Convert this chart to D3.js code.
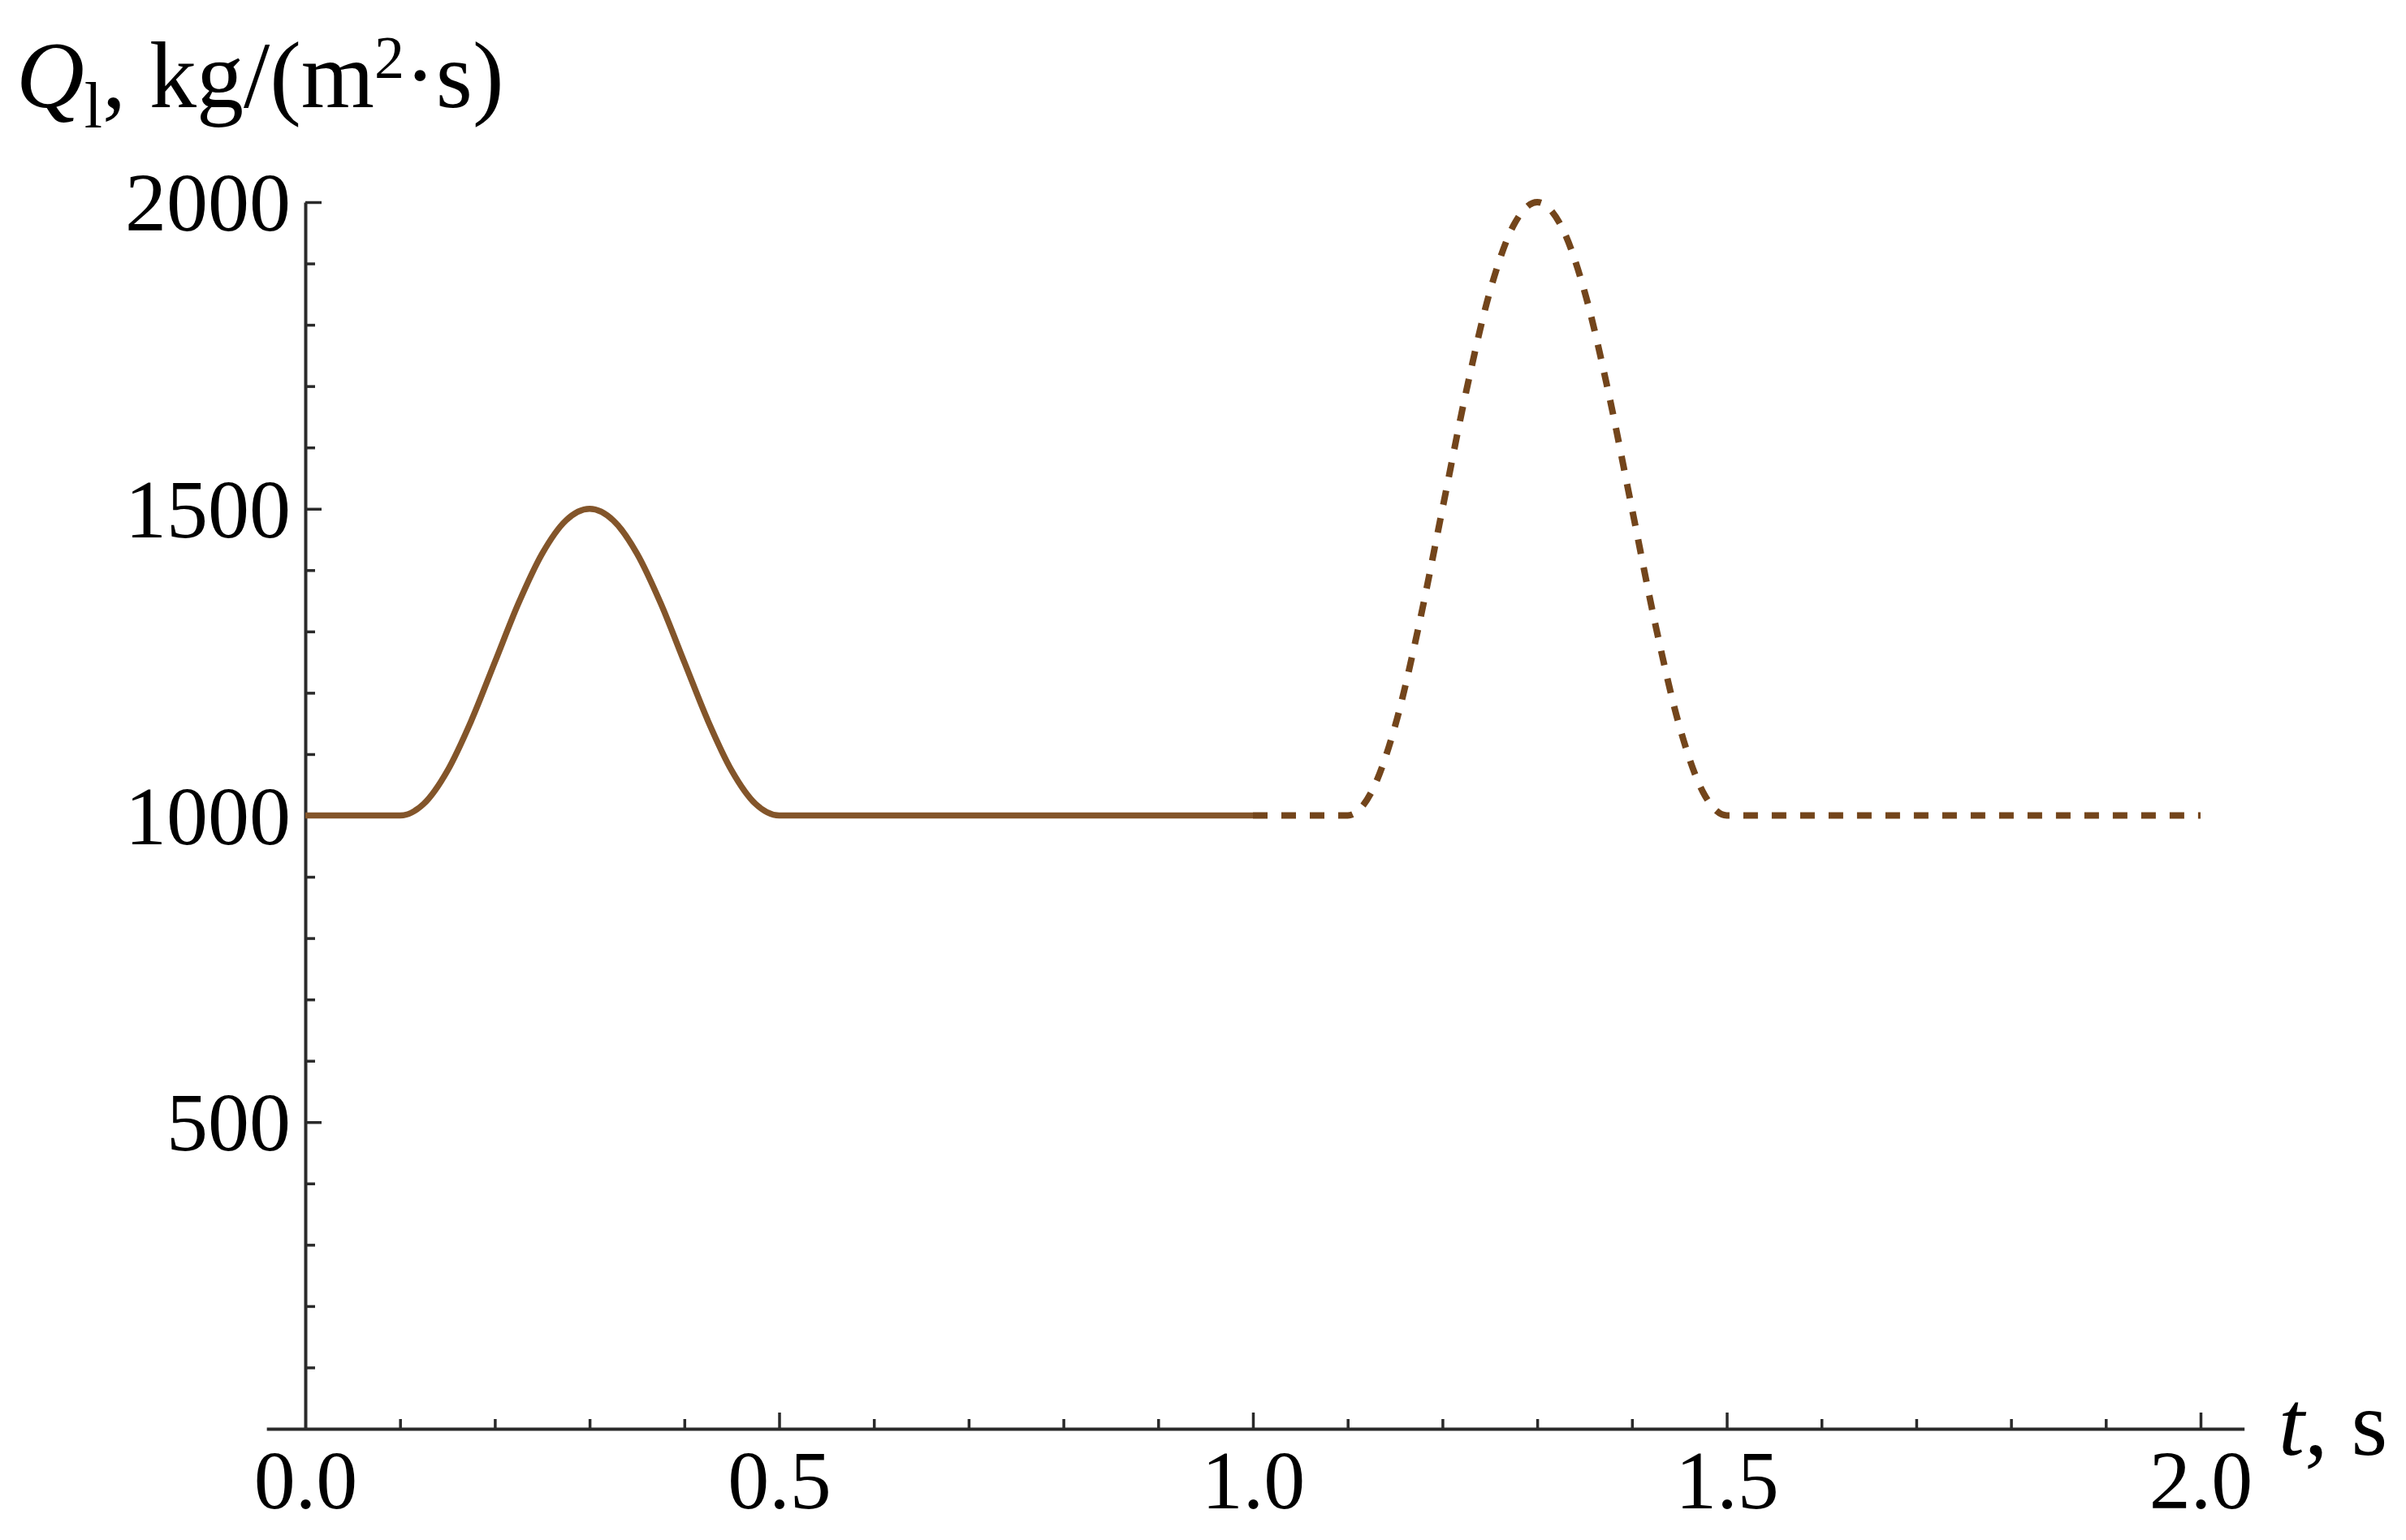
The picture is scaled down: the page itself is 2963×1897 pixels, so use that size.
<!DOCTYPE html>
<html>
<head>
<meta charset="utf-8">
<script src="https://cdn.jsdelivr.net/npm/d3@7"></script>
<style>
  html, body { margin: 0; padding: 0; background: #ffffff; }
  svg { display: block; }
  text { font-family: "Liberation Serif", "Times New Roman", serif; fill: #000; }
</style>
</head>
<body>
<svg id="chart" width="2963" height="1897"></svg>
<script>
// ---- data ----
const solidT = [0, 0.1, 0.125, 0.15, 0.175, 0.2, 0.225, 0.25, 0.275, 0.3, 0.325, 0.35, 0.375, 0.4, 0.425, 0.45, 0.475, 0.5, 1.0];
const solidQ = [1000, 1000, 1019, 1073, 1154, 1250, 1346, 1427, 1481, 1500, 1481, 1427, 1346, 1250, 1154, 1073, 1019, 1000, 1000];
const dashedT = [1.0, 1.1, 1.125, 1.15, 1.175, 1.2, 1.225, 1.25, 1.275, 1.3, 1.325, 1.35, 1.375, 1.4, 1.425, 1.45, 1.475, 1.5, 2.0];
const dashedQ = [1000, 1000, 1038, 1146, 1309, 1500, 1691, 1854, 1962, 2000, 1962, 1854, 1691, 1500, 1309, 1146, 1038, 1000, 1000];
const xMajorTicks = [0, 0.5, 1.0, 1.5, 2.0];
const xMinorTicks = [0.1, 0.2, 0.3, 0.4, 0.6, 0.7, 0.8, 0.9, 1.1, 1.2, 1.3, 1.4, 1.6, 1.7, 1.8, 1.9];
const yMajorTicks = [500, 1000, 1500, 2000];
const yMinorTicks = [100, 200, 300, 400, 600, 700, 800, 900, 1100, 1200, 1300, 1400, 1600, 1700, 1800, 1900];
const xTickLabels = ["0.0", "0.5", "1.0", "1.5", "2.0"];
const yTickLabels = ["500", "1000", "1500", "2000"];

// ---- layout ----
const svg = d3.select("#chart");
const x = d3.scaleLinear().domain([0, 2]).range([376, 2710]);
const y = d3.scaleLinear().domain([0, 2000]).range([1760, 249]);
const xAxisScale = d3.scaleLinear().domain([-0.041, 2.046]).range([x(-0.041), x(2.046)]);

const axisColor = "#2a2a2a";
const fontTick = 102;

// x axis (major)
const gx = svg.append("g").attr("transform", `translate(0,${y(0)})`)
  .call(d3.axisBottom(xAxisScale).tickValues(xMajorTicks)
    .tickFormat((d, i) => xTickLabels[i]).tickSizeInner(-20).tickSizeOuter(0));
gx.select(".domain").attr("stroke", axisColor).attr("stroke-width", 4);
gx.selectAll(".tick line").attr("stroke", axisColor).attr("stroke-width", 3.5);
gx.selectAll(".tick text").attr("y", 98).attr("dy", 0)
  .style("font-size", fontTick + "px").style("font-family", "Liberation Serif").attr("fill", "#000");
gx.selectAll(".tick").filter(d => d === 0).select("line").remove();

// x axis (minor)
const gxm = svg.append("g").attr("transform", `translate(0,${y(0)})`)
  .call(d3.axisBottom(x).tickValues(xMinorTicks).tickFormat("").tickSizeInner(-12).tickSizeOuter(0));
gxm.select(".domain").remove();
gxm.selectAll(".tick line").attr("stroke", axisColor).attr("stroke-width", 3.5);

// y axis (major)
const gy = svg.append("g").attr("transform", `translate(${x(0)},0)`)
  .call(d3.axisLeft(y).tickValues(yMajorTicks)
    .tickFormat((d, i) => yTickLabels[i]).tickSizeInner(-20).tickSizeOuter(0));
gy.select(".domain").attr("stroke", axisColor).attr("stroke-width", 4);
gy.selectAll(".tick line").attr("stroke", axisColor).attr("stroke-width", 3.5);
gy.selectAll(".tick text").attr("x", -18).attr("dy", "0.34em")
  .style("font-size", fontTick + "px").style("font-family", "Liberation Serif").attr("fill", "#000");

// y axis (minor)
const gym = svg.append("g").attr("transform", `translate(${x(0)},0)`)
  .call(d3.axisLeft(y).tickValues(yMinorTicks).tickFormat("").tickSizeInner(-12).tickSizeOuter(0));
gym.select(".domain").remove();
gym.selectAll(".tick line").attr("stroke", axisColor).attr("stroke-width", 3.5);

// ---- curves ----
const line = d3.line().x(d => x(d[0])).y(d => y(d[1])).curve(d3.curveMonotoneX);
const solidData = solidT.map((t, i) => [t, solidQ[i]]);
const dashedData = dashedT.map((t, i) => [t, dashedQ[i]]);

svg.append("path").datum(solidData).attr("d", line)
  .attr("fill", "none").attr("stroke", "#83552a").attr("stroke-width", 7.5)
  .attr("stroke-linejoin", "round");
svg.append("path").datum(dashedData).attr("d", line)
  .attr("fill", "none").attr("stroke", "#73451b").attr("stroke-width", 8)
  .attr("stroke-dasharray", "18,17");

// ---- axis labels ----
const yLab = svg.append("text").attr("x", 20).attr("y", 132).style("font-size", "116px");
yLab.append("tspan").attr("font-style", "italic").text("Q");
yLab.append("tspan").attr("dy", 25).style("font-size", "80px").text("l");
yLab.append("tspan").attr("dy", -25).text(", kg/(m");
yLab.append("tspan").attr("dy", -36).style("font-size", "74px").text("2");
yLab.append("tspan").attr("dy", 36).text("·s)");

const xLab = svg.append("text").attr("x", 2806).attr("y", 1792).style("font-size", "115px");
xLab.append("tspan").attr("font-style", "italic").text("t");
xLab.append("tspan").text(", s");
</script>
</body>
</html>
